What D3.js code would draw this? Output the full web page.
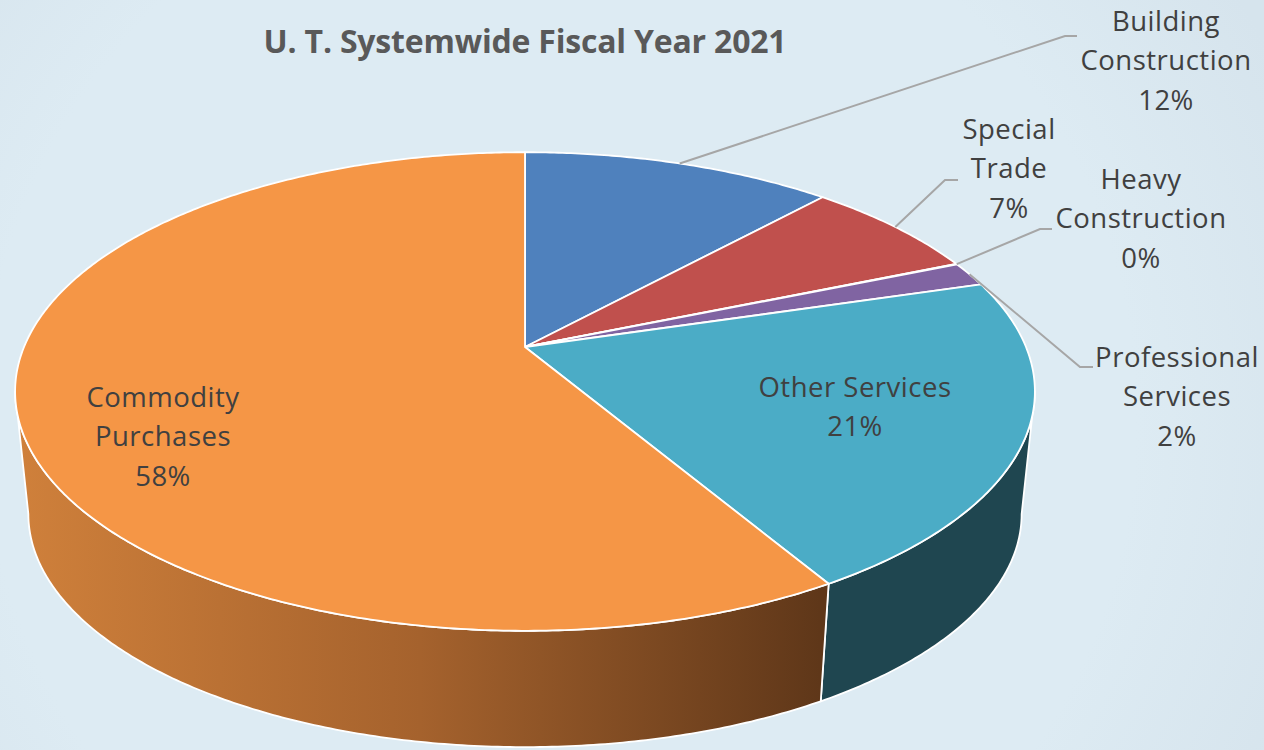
<!DOCTYPE html>
<html><head><meta charset="utf-8">
<script src="https://cdn.jsdelivr.net/npm/d3@7"></script>
<style>
html,body{margin:0;padding:0;background:#ddebf3;overflow:hidden}
text{font-family:"Open Sans",sans-serif}
</style></head><body>
<svg id="c" width="1264" height="750" style="display:block"></svg>
<script>
const categories=["Building Construction","Special Trade","Heavy Construction","Professional Services","Other Services","Commodity Purchases"];
const values=[11.8,6.9,0.05,1.65,21.1,58.5];
const percentLabels=["12%","7%","0%","2%","21%","58%"];
const topColors=["#4f81bd","#c0504d","#9bbb59","#8064a2","#4bacc6","#f59646"];
const labelLines=[["Building","Construction"],["Special","Trade"],["Heavy","Construction"],["Professional","Services"],["Other Services"],["Commodity","Purchases"]];
const labelCenters=[[1166,21],[1009,129],[1141,179],[1177,357],[855,387],[163,397]];
const leaderElbows=[[[1065,36],[1077,36]],[[945,180],[958,180]],[[1040,229],[1052,229]],[[1080,367],[1093,367]],null,null];
const titleText="U. T. Systemwide Fiscal Year 2021";

const svg=d3.select("#c");
const k=0.186,A=501,B=231,cx=525,cy=347;
const sink={s:0.974,y:470.7};
function proj(a,lower){
  const u=Math.sin(a),v=-Math.cos(a),w=1-k*v;
  const s=lower?sink.s:1,y0=lower?sink.y:cy;
  return [cx+s*A*u/w,y0+s*B*v/w];
}
const pie=d3.pie().sort(null)(values);
const rim=(a0,a1,lower)=>{
  const n=Math.max(2,Math.ceil((a1-a0)/0.01));
  return d3.range(n+1).map(i=>proj(a0+(a1-a0)*i/n,lower));
};
const line=d3.line();

const defs=svg.append("defs");
const bg=defs.append("radialGradient").attr("id","bgShade").attr("gradientUnits","userSpaceOnUse")
  .attr("cx",560).attr("cy",420).attr("r",800);
bg.append("stop").attr("offset",0.72).attr("stop-color","#ddebf3");
bg.append("stop").attr("offset",1).attr("stop-color","#d6e4ed");
svg.append("rect").attr("width",1264).attr("height",750).attr("fill","url(#bgShade)");

const grad=defs.append("linearGradient").attr("id","wallOrange").attr("gradientUnits","userSpaceOnUse")
  .attr("x1",20).attr("x2",820).attr("y1",0).attr("y2",0);
grad.append("stop").attr("offset",0).attr("stop-color","#cf803b");
grad.append("stop").attr("offset",0.5).attr("stop-color","#a5622d");
grad.append("stop").attr("offset",1).attr("stop-color","#5f3719");

const wallFill=i=>i===5?"url(#wallOrange)":i===4?"#1f4650":d3.color(topColors[i]).darker(1.6);

// the side wall is only visible between the two silhouette angles of the disc
const visFrom=Math.PI/2+Math.asin(k),visTo=2*Math.PI-visFrom;
const wallData=pie.map((d,i)=>({i,a0:Math.max(d.startAngle,visFrom),a1:Math.min(d.endAngle,visTo)})).filter(d=>d.a1>d.a0);
svg.append("g").selectAll("path").data(wallData).join("path")
  .attr("d",d=>line(rim(d.a0,d.a1,false).concat(rim(d.a0,d.a1,true).reverse()))+"Z")
  .attr("fill",d=>wallFill(d.i)).attr("stroke","#fff").attr("stroke-width",1.8).attr("stroke-linejoin","round");

// top face
svg.append("g").selectAll("path").data(pie).join("path")
  .attr("d",d=>line([[cx,cy]].concat(rim(d.startAngle,d.endAngle,false)))+"Z")
  .attr("fill",(d,i)=>topColors[i]).attr("stroke","#fff").attr("stroke-width",1.8).attr("stroke-linejoin","round");

// leaders
leaderElbows.forEach((el,i)=>{
  if(!el)return;
  const d=pie[i],p=proj((d.startAngle+d.endAngle)/2,false);
  svg.append("path").attr("d",line([p,...el])).attr("fill","none").attr("stroke","#a6a6a6").attr("stroke-width",2);
});

// labels
const lh=39.5;
categories.forEach((c,i)=>{
  const t=svg.append("text").attr("text-anchor","middle").attr("fill","#404040").attr("font-size",27.5).attr("letter-spacing",0.5);
  labelLines[i].concat(percentLabels[i]).forEach((s,j)=>{
    t.append("tspan").attr("x",labelCenters[i][0]).attr("y",labelCenters[i][1]+9.5+j*lh).text(s);
  });
});
svg.append("text").attr("x",525).attr("y",53).attr("text-anchor","middle").attr("font-size",32).attr("font-weight",700).attr("letter-spacing",-0.2).attr("fill","#595959").text(titleText);
</script></body></html>
